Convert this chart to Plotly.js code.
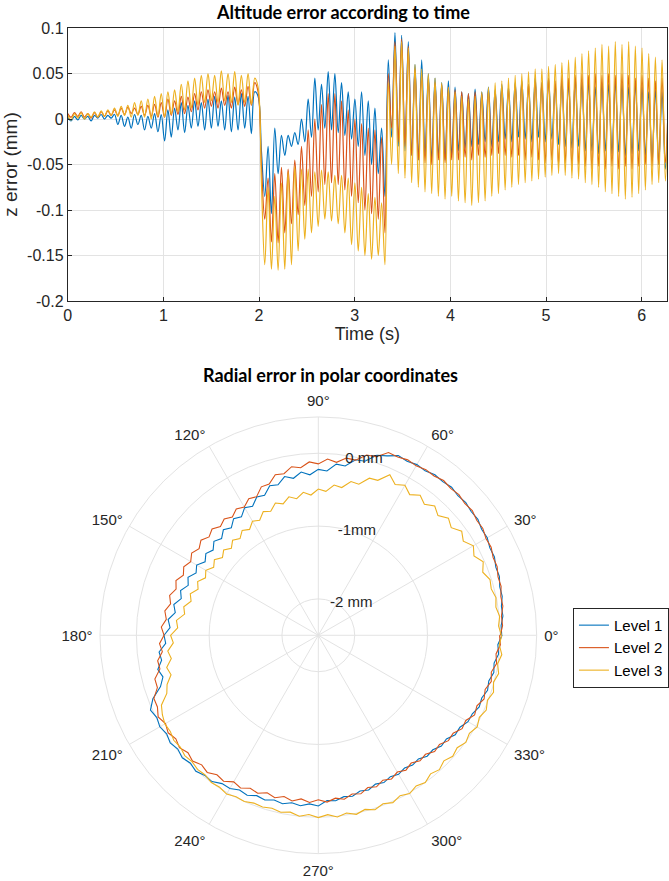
<!DOCTYPE html>
<html>
<head>
<meta charset="utf-8">
<script src="https://cdn.plot.ly/plotly-3.0.1.min.js"></script>
<style>html,body{margin:0;padding:0;background:#fff;}#chart{width:669px;height:881px;}</style>
</head>
<body>
<div id="chart"></div>
<script>
// ---------- Top chart: z error (mm) vs time (s), sampled at peaks/troughs ----------
const TIME_STEP = 2 * Math.PI / 180;   // s between successive samples
const xTickVals = [0, 1, 2, 3, 4, 5, 6];
const yTickVals = [-0.2, -0.15, -0.1, -0.05, 0, 0.05, 0.1];
const yTickText = ["-0.2", "-0.15", "-0.1", "-0.05", "0", "0.05", "0.1"];

const zLevel1 = [
 0.002,-0.002,0.003,-0.001,0.004,0.000,0.003,-0.002,0.004,0.001,0.005,0.000,0.004,0.001,0.005,
 -0.006,0.004,-0.008,0.002,-0.010,0.005,-0.006,0.004,-0.012,0.003,-0.010,0.006,-0.014,0.005,
 -0.024,0.010,-0.020,0.012,-0.012,0.018,-0.015,0.015,-0.010,0.020,-0.008,0.018,-0.012,0.022,-0.010,
 0.025,-0.008,0.020,-0.012,0.026,-0.014,0.024,-0.012,0.028,-0.010,0.025,-0.016,0.030,0.025,
 -0.035,-0.085,-0.030,-0.104,-0.010,-0.060,-0.018,-0.040,-0.018,-0.030,-0.015,-0.028,0.000,-0.025,
 0.022,-0.020,0.045,-0.012,0.038,-0.010,0.052,-0.012,0.050,-0.015,0.040,-0.018,0.030,-0.022,0.022,
 -0.030,0.030,-0.040,0.020,-0.050,0.012,-0.060,-0.010,-0.085,
 0.065,-0.020,0.095,-0.030,0.092,-0.035,0.085,-0.040,0.060,-0.045,0.065,-0.040,0.050,-0.045,0.045,
 -0.042,0.040,-0.045,0.042,-0.040,0.035,-0.035,0.030,-0.032,0.028,-0.030,0.033,-0.028,0.030,-0.025,
 0.035,-0.030,0.032,-0.025,0.038,-0.022,0.035,-0.025,0.040,-0.020,0.042,-0.022,0.038,-0.025,0.045,
 -0.020,0.040,-0.025,0.045,-0.022,0.038,-0.028,0.042,-0.030,0.040,-0.032,0.045,-0.030,0.040,-0.035,
 0.042,-0.035,0.035,-0.038,0.040,-0.035,0.038,-0.038,0.042,-0.036,0.038,-0.040,0.035,-0.038,0.040,
 -0.035,0.035,-0.040,0.030,-0.045,0.032,-0.050,0.030,-0.055,0.025
];
const zLevel2 = [
 0.006,0.002,0.007,0.003,0.008,0.002,0.006,0.001,0.007,0.002,0.008,0.003,0.009,0.004,0.010,
 0.004,0.012,0.005,0.013,0.006,0.012,0.005,0.014,0.004,0.015,0.003,0.016,0.002,0.018,
 0.002,0.022,0.004,0.020,0.005,0.025,0.006,0.024,0.008,0.028,0.010,0.030,0.012,0.032,0.014,
 0.030,0.012,0.034,0.015,0.030,0.012,0.035,0.016,0.032,0.014,0.036,0.015,0.040,0.030,
 -0.050,-0.110,-0.065,-0.135,-0.060,-0.136,-0.053,-0.125,-0.055,-0.115,-0.045,-0.105,-0.030,-0.095,
 -0.012,-0.085,0.000,-0.080,0.016,-0.072,0.028,-0.070,0.028,-0.072,0.020,-0.078,0.010,-0.085,0.000,
 -0.092,-0.005,-0.100,-0.010,-0.104,-0.012,-0.110,-0.020,-0.125,
 0.050,-0.010,0.085,-0.025,0.088,-0.030,0.080,-0.040,0.055,-0.045,0.050,-0.048,0.045,-0.050,0.040,
 -0.045,0.038,-0.048,0.035,-0.045,0.032,-0.045,0.030,-0.042,0.028,-0.045,0.030,-0.040,0.028,-0.042,
 0.032,-0.040,0.030,-0.038,0.035,-0.040,0.033,-0.042,0.038,-0.040,0.040,-0.045,0.038,-0.042,0.042,
 -0.045,0.040,-0.048,0.045,-0.045,0.042,-0.050,0.048,-0.048,0.045,-0.052,0.048,-0.050,0.050,-0.052,
 0.048,-0.055,0.050,-0.052,0.048,-0.055,0.050,-0.052,0.048,-0.055,0.050,-0.052,0.048,-0.055,0.045,
 -0.052,0.048,-0.050,0.045,-0.052,0.042,-0.050,0.045,-0.048,0.040
];
const zLevel3 = [
 0.004,-0.001,0.006,0.001,0.007,0.000,0.006,0.002,0.008,0.002,0.009,0.003,0.010,0.004,0.012,
 0.003,0.014,0.004,0.015,0.002,0.018,0.004,0.020,0.002,0.022,0.000,0.025,0.003,0.028,
 0.002,0.030,0.005,0.032,0.008,0.038,0.010,0.042,0.012,0.045,0.015,0.048,0.018,0.050,0.020,
 0.048,0.018,0.053,0.020,0.050,0.018,0.052,0.015,0.048,0.018,0.050,0.016,0.045,0.035,
 -0.070,-0.160,-0.075,-0.165,-0.085,-0.166,-0.070,-0.165,-0.058,-0.160,-0.052,-0.145,-0.055,-0.132,
 -0.055,-0.125,-0.058,-0.118,-0.056,-0.110,-0.058,-0.112,-0.062,-0.115,-0.062,-0.125,-0.065,-0.138,-0.070,
 -0.145,-0.075,-0.150,-0.082,-0.154,-0.086,-0.150,-0.092,-0.160,
 0.040,-0.050,0.080,-0.060,0.085,-0.065,0.078,-0.070,0.060,-0.075,0.055,-0.080,0.050,-0.082,0.045,
 -0.085,0.040,-0.088,0.035,-0.085,0.030,-0.090,0.025,-0.092,0.022,-0.095,0.025,-0.092,0.030,-0.090,
 0.035,-0.085,0.040,-0.082,0.042,-0.078,0.045,-0.075,0.048,-0.072,0.050,-0.070,0.052,-0.068,0.055,
 -0.066,0.055,-0.064,0.058,-0.062,0.060,-0.060,0.062,-0.062,0.065,-0.065,0.068,-0.066,0.072,-0.070,
 0.075,-0.072,0.078,-0.075,0.082,-0.080,0.080,-0.082,0.085,-0.085,0.082,-0.088,0.085,-0.086,0.080,
 -0.082,0.078,-0.078,0.072,-0.072,0.068,-0.070,0.065,-0.068,0.060
];

// ---------- Bottom chart: radial error (mm) vs angle (deg) ----------
const ANGLE_STEP = 3; // degrees between samples
const radialTickVals = [-2, -1, 0];
const radialTickText = ["-2 mm", "-1mm", "0 mm"];
const rLevel1 = [
 0.020,0.015,0.050,0.047,0.083,0.080,0.116,0.112,0.149,0.145,0.180,0.175,0.210,0.202,0.227,0.212,
 0.237,0.216,0.225,0.194,0.208,0.185,0.202,0.140,0.100,-0.025,-0.035,-0.145,-0.135,-0.240,-0.220,
 -0.292,-0.244,-0.316,-0.270,-0.360,-0.340,-0.440,-0.420,-0.510,-0.475,-0.560,-0.520,-0.600,-0.550,
 -0.620,-0.570,-0.640,-0.590,-0.645,-0.570,-0.615,-0.540,-0.585,-0.510,-0.550,-0.470,-0.510,-0.425,
 -0.460,-0.380,-0.400,-0.300,-0.320,-0.245,-0.290,-0.220,-0.065,0.025,-0.010,0.015,-0.015,0.015,
 -0.015,0.015,-0.015,0.015,-0.023,-0.015,-0.070,-0.070,-0.115,-0.095,-0.140,-0.120,-0.157,-0.133,
 -0.170,-0.145,-0.180,-0.155,-0.225,-0.215,-0.255,-0.240,-0.285,-0.265,-0.310,-0.285,-0.320,-0.295,
 -0.325,-0.295,-0.315,-0.265,-0.275,-0.225,-0.235,-0.175,-0.180,-0.125,-0.125,-0.080,-0.095,-0.055,
 -0.075,-0.035,-0.055,-0.010,-0.030,0.025
];
const rLevel2 = [
 0.000,0.035,0.030,0.067,0.063,0.100,0.096,0.132,0.129,0.165,0.160,0.195,0.190,0.222,0.207,0.232,
 0.217,0.236,0.205,0.214,0.188,0.205,0.182,0.190,0.080,0.065,-0.040,-0.035,-0.110,-0.075,-0.145,
 -0.115,-0.185,-0.155,-0.230,-0.215,-0.315,-0.315,-0.415,-0.395,-0.465,-0.430,-0.490,-0.445,-0.490,
 -0.435,-0.480,-0.425,-0.475,-0.425,-0.475,-0.425,-0.470,-0.405,-0.445,-0.385,-0.425,-0.365,-0.400,
 -0.340,-0.380,-0.315,-0.345,-0.265,-0.275,-0.175,-0.175,-0.080,-0.080,-0.030,-0.075,-0.040,-0.080,
 -0.045,-0.090,-0.055,-0.105,-0.075,-0.130,-0.110,-0.175,-0.145,-0.200,-0.175,-0.225,-0.190,-0.235,
 -0.195,-0.240,-0.200,-0.240,-0.205,-0.250,-0.220,-0.270,-0.245,-0.300,-0.270,-0.320,-0.285,-0.330,
 -0.290,-0.330,-0.280,-0.300,-0.240,-0.260,-0.200,-0.210,-0.145,-0.160,-0.090,-0.115,-0.060,-0.090,
 -0.040,-0.070,-0.020,-0.045,0.005,-0.010
];
const rLevel3 = [
 0.015,-0.020,0.005,-0.030,-0.005,-0.040,-0.020,-0.080,-0.020,-0.100,-0.040,-0.125,-0.065,-0.150,
 -0.095,-0.175,-0.110,-0.185,-0.120,-0.195,-0.120,-0.175,-0.085,-0.220,-0.230,-0.350,-0.340,-0.445,
 -0.425,-0.520,-0.490,-0.570,-0.525,-0.600,-0.555,-0.630,-0.590,-0.675,-0.640,-0.725,-0.690,-0.765,
 -0.720,-0.790,-0.740,-0.810,-0.750,-0.805,-0.735,-0.785,-0.715,-0.760,-0.685,-0.730,-0.650,-0.690,
 -0.610,-0.640,-0.540,-0.565,-0.470,-0.505,-0.420,-0.455,-0.370,-0.405,-0.315,-0.270,-0.140,-0.095,
 -0.065,-0.075,-0.045,-0.060,-0.030,-0.045,-0.020,-0.030,0.000,-0.010,0.020,-0.010,0.000,-0.030,
 -0.020,-0.040,-0.015,-0.040,0.000,-0.035,0.005,-0.032,0.010,-0.028,0.015,-0.023,0.020,-0.020,
 0.017,-0.026,0.011,-0.032,0.000,-0.050,-0.015,-0.060,-0.015,-0.045,0.005,-0.025,0.020,-0.017,
 0.026,-0.011,0.031,-0.008,0.033,-0.006,0.035,-0.010,0.020
];
const levelNames = ["Level 1", "Level 2", "Level 3"];
const levelColors = ["#0072BD", "#D95319", "#EDB120"];

// ---------- build ----------
const zSeries = [zLevel1, zLevel2, zLevel3];
const rSeries = [rLevel1, rLevel2, rLevel3];
const traces = [];
zSeries.forEach((vals, k) => {
  traces.push({
    type: "scatter", mode: "lines",
    x: vals.map((_, i) => i * TIME_STEP), y: vals,
    line: {color: levelColors[k], width: 1.2, shape: "spline", smoothing: 1},
    showlegend: false, hoverinfo: "skip"
  });
});
rSeries.forEach((vals, k) => {
  traces.push({
    type: "scatterpolar", mode: "lines",
    theta: vals.map((_, i) => i * ANGLE_STEP), r: vals,
    name: levelNames[k],
    line: {color: levelColors[k], width: 1.1},
    subplot: "polar"
  });
});

const FONT = "Liberation Sans, Arial, sans-serif";
const GRID = "#e3e3e3";
const AXIS = "#262626";
const layout = {
  width: 669, height: 881,
  margin: {l: 0, r: 0, t: 0, b: 0},
  paper_bgcolor: "#ffffff", plot_bgcolor: "#ffffff",
  font: {family: FONT, size: 14, color: AXIS},
  showlegend: true,
  legend: {
    x: 0.859, y: 0.31, xanchor: "left", yanchor: "top",
    bordercolor: "#262626", borderwidth: 1, bgcolor: "#ffffff",
    font: {family: FONT, size: 15, color: "#000000"},
    tracegroupgap: 0, itemwidth: 30
  },
  xaxis: {
    domain: [0.1016, 1], range: [0, 6.265],
    tickmode: "array", tickvals: xTickVals,
    showgrid: true, gridcolor: GRID, zeroline: false,
    showline: true, linecolor: AXIS, linewidth: 1, mirror: true,
    ticks: "inside", ticklen: 4, tickcolor: AXIS,
    tickfont: {size: 16},
    title: {text: "Time (s)", font: {size: 18}, standoff: 2}
  },
  yaxis: {
    domain: [0.6583, 0.9682], range: [-0.2, 0.1],
    tickmode: "array", tickvals: yTickVals, ticktext: yTickText,
    showgrid: true, gridcolor: GRID, zeroline: false,
    showline: true, linecolor: AXIS, linewidth: 1, mirror: true,
    ticks: "inside", ticklen: 4, tickcolor: AXIS,
    tickfont: {size: 16},
    title: {text: "z error (mm)", font: {size: 19}, standoff: 4}
  },
  polar: {
    domain: {x: [0.1499, 0.8046], y: [0.0303, 0.5275]},
    bgcolor: "#ffffff",
    radialaxis: {
      range: [-2.5, 0.5], tickmode: "array", tickvals: radialTickVals, ticktext: radialTickText,
      angle: 84, tickangle: 84, side: "clockwise", showline: false, ticks: "",
      gridcolor: GRID, tickfont: {size: 15, color: AXIS}
    },
    angularaxis: {
      rotation: 0, direction: "counterclockwise", thetaunit: "degrees",
      tickmode: "linear", tick0: 0, dtick: 30,
      showline: true, linecolor: GRID, gridcolor: GRID,
      ticks: "outside", ticklen: 4, tickcolor: "rgba(0,0,0,0)",
      tickfont: {size: 15, color: AXIS}
    }
  },
  annotations: [
    {text: "<b>Altitude error according to time</b>", xref: "paper", yref: "paper",
     x: 0.514, y: 0.9864, xanchor: "center", yanchor: "middle", showarrow: false,
     font: {family: "Lato, Liberation Sans, sans-serif", size: 18, color: "#000000"}},
    {text: "<b>Radial error in polar coordinates</b>", xref: "paper", yref: "paper",
     x: 0.4948, y: 0.5743, xanchor: "center", yanchor: "middle", showarrow: false,
     font: {family: "Lato, Liberation Sans, sans-serif", size: 18, color: "#000000"}}
  ]
};
Plotly.newPlot("chart", traces, layout, {staticPlot: true, displayModeBar: false});
</script>
</body>
</html>
